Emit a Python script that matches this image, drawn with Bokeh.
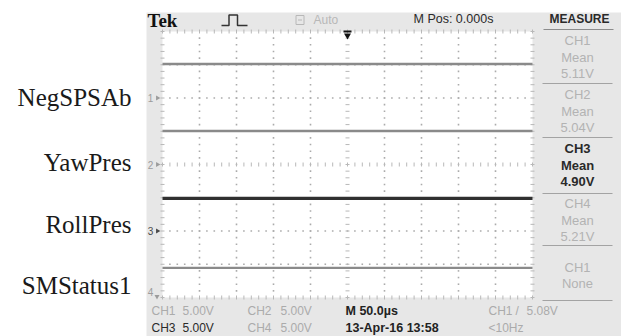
import math
from bokeh.plotting import figure
from bokeh.models import Range1d
from bokeh.core.properties import value
from bokeh.embed import file_html
from bokeh.resources import INLINE

# ---------------- data ----------------
channels = ["CH1", "CH2", "CH3", "CH4"]
signal_names = ["NegSPSAb", "YawPres", "RollPres", "SMStatus1"]
mean_volts = [5.11, 5.04, 4.90, 5.21]
ground_div = [2.0, 0.0, -2.0, -4.15]
volts_per_div = [5.0, 5.0, 5.0, 5.0]
active_channel = "CH3"
time_per_div_us = 50.0
trigger_time_us = 0.0
n_hdiv, n_vdiv = 10, 8
trigger_source = "CH1"
trigger_level_v = 5.08
trigger_freq = "<10Hz"
timestamp = "13-Apr-16 13:58"
trigger_mode = "Auto"
mpos_text = "M Pos: 0.000s"
measure_type = "Mean"
extra_measure = ["CH1", "None"]

# ---------------- layout (page pixels) ----------------
W, H = 621, 336
OX, OY = 0, 0
GX0, GX1, GY0, GY1 = 162, 532, 31, 297
T_HALF = n_hdiv * time_per_div_us / 2


def X(px):
    return -T_HALF + (px - GX0) * (2 * T_HALF) / (GX1 - GX0)


def Y(py):
    return n_vdiv / 2 - (py - GY0) * n_vdiv / (GY1 - GY0)


BG = "#e7e7e7"
GRID = "#ababab"
GRID_T = "#b8b8b8"
SANS = "Liberation Sans"

p = figure(width=W, height=H,
           x_range=Range1d(X(OX), X(OX + W)), y_range=Range1d(Y(OY + H), Y(OY)),
           x_axis_type=None, y_axis_type=None, toolbar_location=None,
           output_backend="svg", min_border=0, outline_line_color=None,
           background_fill_color="white", border_fill_color="white")


def txt(xs, ys, texts, size, color, align="left", baseline="middle",
        font=SANS, style="normal"):
    p.text(x=[X(v) for v in xs], y=[Y(v) for v in ys], text=texts,
           text_font=value(font), text_font_size=value(size),
           text_color=color, text_align=align, text_baseline=baseline,
           text_font_style=style)


# screen backgrounds
p.quad(left=X(146), right=X(OX + W + 2), top=Y(12), bottom=Y(OY + H + 2),
       fill_color=BG, line_color=None)
p.quad(left=-T_HALF, right=T_HALF, top=n_vdiv / 2, bottom=-n_vdiv / 2,
       fill_color="white", line_color=None)

# graticule
tpd = time_per_div_us
xdiv = [-T_HALF + i * tpd for i in range(n_hdiv + 1)]
ydiv = [-n_vdiv / 2 + j for j in range(n_vdiv + 1)]
minor_y = [-n_vdiv / 2 + k * 0.2 for k in range(n_vdiv * 5 + 1)]
minor_x = [-T_HALF + k * tpd / 5 for k in range(n_hdiv * 5 + 1)]

dx, dy = [], []
for xv in xdiv[1:-1]:
    if abs(xv) < 1e-9:
        continue
    for yv in minor_y[1:-1]:
        dx.append(xv); dy.append(yv)
for yv in ydiv[1:-1]:
    if abs(yv) < 1e-9:
        continue
    for xv in minor_x[1:-1]:
        dx.append(xv); dy.append(yv)
p.scatter(dx, dy, marker="square", size=1.6, fill_color=GRID, line_color=None)

# center line ticks
p.scatter([0.0] * len(minor_y), minor_y, marker="dash", size=4,
          line_color=GRID_T, line_width=1)
p.scatter(minor_x, [0.0] * len(minor_x), marker="dash", size=4, angle=math.pi / 2,
          line_color=GRID_T, line_width=1)
# border ticks
for xb in (-T_HALF, T_HALF):
    p.scatter([xb] * len(minor_y), minor_y, marker="dash", size=4,
              line_color=GRID_T, line_width=1)
for yb in (-n_vdiv / 2, n_vdiv / 2):
    p.scatter(minor_x, [yb] * len(minor_x), marker="dash", size=4, angle=math.pi / 2,
              line_color=GRID_T, line_width=1)

# traces
for ch, m, g, vpd in zip(channels, mean_volts, ground_div, volts_per_div):
    lvl = g + m / vpd
    act = ch == active_channel
    p.line([-T_HALF, T_HALF], [lvl, lvl],
           line_color="#303030" if act else "#8a8a8a",
           line_width=3.2 if act else 2.4)

# channel ground markers
for i, (ch, g) in enumerate(zip(channels, ground_div)):
    col = "#4a4a4a" if ch == active_channel else "#9c9c9c"
    if g >= -n_vdiv / 2:
        p.text(x=[X(150)], y=[g], text=[str(i + 1)], text_font=value(SANS),
               text_font_size=value("10px"), text_color=col,
               text_align="center", text_baseline="middle")
        p.scatter([X(157)], [g], marker="triangle", angle=-math.pi / 2, size=5,
                  fill_color=col, line_color=None)
    else:
        txt([150], [291], [str(i + 1)], "10px", col, align="center")
        p.scatter([X(156.5)], [Y(296)], marker="inverted_triangle", size=5,
                  fill_color=col, line_color=None)

# trigger position marker
p.scatter([trigger_time_us], [Y(31)], marker="dash", size=8, line_color="#111",
          line_width=2)
p.scatter([trigger_time_us], [Y(35)], marker="inverted_triangle", size=7,
          fill_color="#111", line_color=None)

# signal names (left)
txt([131] * 4, [97, 162, 224, 285], signal_names, "25px", "#1a1a1a",
    align="right", baseline="middle", font="Liberation Serif")

# top bar
txt([147], [20], ["Tek"], "19px", "#111", baseline="middle",
    font="Liberation Serif", style="bold")
p.line([X(v) for v in (221, 228.5, 228.5, 237, 237, 247)],
       [Y(v) for v in (25, 25, 14.5, 14.5, 25, 25)], line_color="#333", line_width=1.5)
p.quad(left=X(295.5), right=X(303.5), top=Y(15), bottom=Y(24),
       fill_color=None, line_color="#b8b8b8", line_width=1)
p.segment(X(297.5), Y(19.5), X(301.5), Y(19.5), line_color="#b8b8b8", line_width=1)
txt([313], [19.5], [trigger_mode], "12px", "#b8b8b8")
txt([413], [18.5], [mpos_text], "12.5px", "#2a2a2a")
txt([579], [18.5], ["MEASURE"], "12px", "#2a2a2a", align="center", style="bold")
p.segment(X(543), Y(29), X(613), Y(29), line_color="#8c8c8c", line_width=1.2)

# measure panel
title_y = [40, 94, 148, 203]
for ch, m, ty in zip(channels, mean_volts, title_y):
    act = ch == active_channel
    col = "#2a2a2a" if act else "#b3b3b3"
    txt([577] * 3, [ty, ty + 16.5, ty + 33], [ch, measure_type, f"{m:.2f}V"],
        "13px", col, align="center", style="bold" if act else "normal")
txt([577, 577], [267, 283], extra_measure, "13px", "#b3b3b3", align="center")
for yy in [83, 137, 193, 245, 300]:
    p.segment(X(542), Y(yy), X(612), Y(yy), line_color="#a3a3a3", line_width=1)

# bottom status rows
row1_y, row2_y = 310, 327
vtxt = [f"{v:.2f}V" for v in volts_per_div]
cols = ["#2a2a2a" if c == active_channel else "#ababab" for c in channels]
for (ch, vt, col), (cx, vx), ry in zip(zip(channels, vtxt, cols),
                                       [(151, 182), (247, 280), (151, 182), (247, 280)],
                                       [row1_y, row1_y, row2_y, row2_y]):
    txt([cx, vx], [ry, ry], [ch, vt], "12px", col)
txt([345], [row1_y], [f"M {time_per_div_us:.1f}\u00b5s"], "12.5px", "#222", style="bold")
txt([345], [row2_y], [timestamp], "12.5px", "#222", style="bold")
txt([488, 515, 526], [row1_y] * 3, [trigger_source, "/", f"{trigger_level_v:.2f}V"],
    "12px", "#ababab")
txt([488], [row2_y], [trigger_freq], "12px", "#ababab")

open("out.html", "w").write(file_html(p, INLINE))
